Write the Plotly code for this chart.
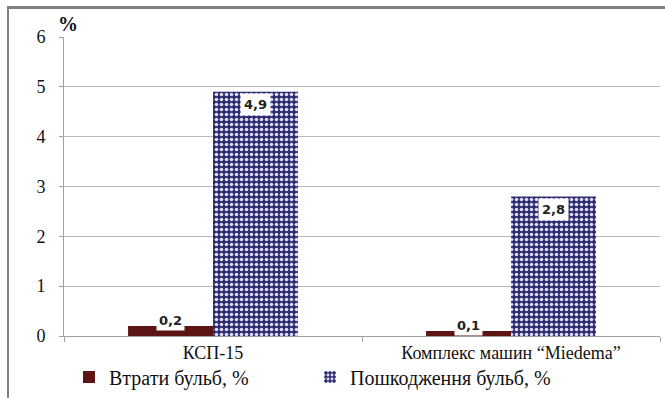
import plotly.graph_objects as go

categories = ["КСП-15", "Комплекс машин “Miedema”"]
series_names = ["Втрати бульб, %", "Пошкодження бульб, %"]
losses = [0.2, 0.1]
damage = [4.9, 2.8]
loss_labels = ["0,2", "0,1"]
damage_labels = ["4,9", "2,8"]
y_ticks = [0, 1, 2, 3, 4, 5, 6]

W, H = 665, 398
L, R, T, B = 64, 5, 37, 62
serif = "'Liberation Serif', 'DejaVu Serif', serif"

fig = go.Figure()
fig.add_trace(go.Bar(
    x=categories, y=losses, name=series_names[0],
    marker=dict(color="#5c1414", line=dict(width=0)),
))
fig.add_trace(go.Bar(
    x=categories, y=damage, name=series_names[1],
    marker=dict(color="#2c2b70", line=dict(width=0),
                pattern=dict(shape=".", fgcolor="#dcdcf0", bgcolor="#2c2b70",
                             size=5, solidity=0.4, fillmode="replace")),
))

bar_px = (W - L - R) / 2 * (1 - 0.43) / 2

for cat, v, t in zip(categories, losses, loss_labels):
    fig.add_annotation(x=cat, y=v, xref="x", yref="y", text="<b>" + t + "</b>",
                       xshift=-bar_px / 2, yshift=6, showarrow=False,
                       bgcolor="white", borderpad=2,
                       font=dict(family="DejaVu Sans", size=13, color="#222"))
for cat, v, t in zip(categories, damage, damage_labels):
    fig.add_annotation(x=cat, y=v, xref="x", yref="y", text="<b>" + t + "</b>",
                       xshift=bar_px / 2, yshift=-13, showarrow=False,
                       bgcolor="white", borderpad=3,
                       font=dict(family="DejaVu Sans", size=13, color="#222"))

fig.add_annotation(x=0, y=1, xref="paper", yref="paper", text="<b>%</b>",
                   xanchor="left", yanchor="bottom", xshift=-8, yshift=0,
                   showarrow=False, font=dict(family=serif, size=20, color="#111"))

pw, ph = W - L - R, H - T - B
fig.add_shape(type="rect", xref="paper", yref="paper",
              x0=(8 - L) / pw, x1=(W + 20 - L) / pw,
              y0=-(B + 20) / ph, y1=1 + (T - 8) / ph,
              line=dict(color="#808080", width=2), fillcolor="rgba(0,0,0,0)",
              layer="above")
# top edge of the outer frame, drawn as a bordered empty box
fig.add_annotation(x=(7 - L) / pw, y=1 + (T - 6) / ph, xref="paper", yref="paper",
                   xanchor="left", yanchor="top", text=" ", showarrow=False,
                   width=690, height=420, borderwidth=2, bordercolor="#808080",
                   bgcolor="rgba(0,0,0,0)")

fig.update_layout(
    width=W, height=H,
    margin=dict(l=L, r=R, t=T, b=B, autoexpand=False),
    paper_bgcolor="white", plot_bgcolor="white",
    barmode="group", bargap=0.43, bargroupgap=0,
    showlegend=True,
    legend=dict(orientation="h", x=(69 - L) / pw, xanchor="left",
                y=-(377 - (T + ph)) / ph, yanchor="middle",
                font=dict(family=serif, size=20, color="#111"),
                entrywidth=196, entrywidthmode="pixels", itemwidth=30,
                traceorder="normal", bgcolor="rgba(0,0,0,0)"),
    xaxis=dict(type="category", showline=True, linecolor="#a0a0a0", linewidth=1,
               ticks="outside", tickson="boundaries", ticklen=5, tickcolor="#a0a0a0",
               tickfont=dict(family=serif, size=18, color="#111"), showgrid=False),
    yaxis=dict(range=[0, 6], tickvals=y_ticks, showline=True, linecolor="#a0a0a0",
               linewidth=1, ticks="outside", ticklen=4, tickcolor="#a0a0a0",
               ticklabelstandoff=10,
               gridcolor="#b8b8b8", gridwidth=1, zeroline=False,
               tickfont=dict(family=serif, size=18, color="#111")),
)

fig.write_html("out.html", config={"displayModeBar": False},
               post_script="document.body.style.margin='0';document.body.style.overflow='hidden';")
